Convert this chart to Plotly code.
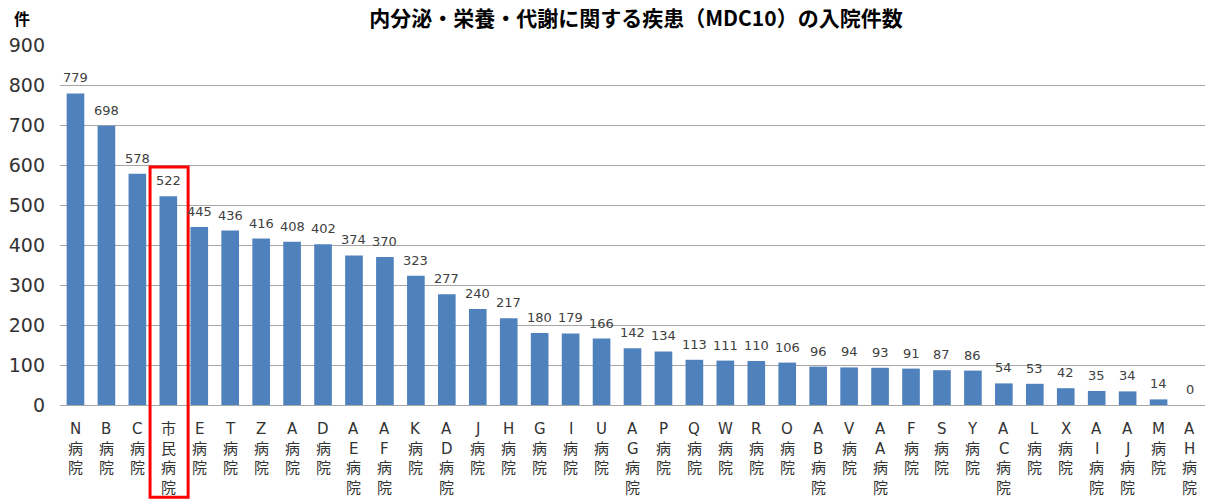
import plotly.graph_objects as go

hospitals = ["N病院", "B病院", "C病院", "市民病院", "E病院", "T病院", "Z病院", "A病院", "D病院",
             "AE病院", "AF病院", "K病院", "AD病院", "J病院", "H病院", "G病院", "I病院", "U病院",
             "AG病院", "P病院", "Q病院", "W病院", "R病院", "O病院", "AB病院", "V病院", "AA病院",
             "F病院", "S病院", "Y病院", "AC病院", "L病院", "X病院", "AI病院", "AJ病院", "M病院", "AH病院"]
admissions = [779, 698, 578, 522, 445, 436, 416, 408, 402, 374, 370, 323, 277, 240, 217, 180, 179,
              166, 142, 134, 113, 111, 110, 106, 96, 94, 93, 91, 87, 86, 54, 53, 42, 35, 34, 14, 0]
y_ticks = [0, 100, 200, 300, 400, 500, 600, 700, 800, 900]
highlight = "市民病院"

CJK = "Noto Sans CJK JP"
LATIN = "DejaVu Sans, Noto Sans CJK JP"

idx = list(range(len(hospitals)))

fig = go.Figure(go.Bar(
    x=idx,
    y=admissions,
    width=0.57,
    marker=dict(color="#4f81bd", line=dict(width=0)),
    hoverinfo="x+y",
))

annotations = []

# value labels above each bar
for i, v in zip(idx, admissions):
    annotations.append(dict(
        x=i, y=v, xref="x", yref="y", text=str(v), showarrow=False,
        xanchor="center", yanchor="bottom", yshift=6,
        font=dict(family=LATIN, size=13, color="#404040")))

# category names written vertically, one character per line
LINE_PITCH = 19.5
for i, name in zip(idx, hospitals):
    for j, ch in enumerate(name):
        annotations.append(dict(
            x=i, y=0, xref="x", yref="paper", text=ch, showarrow=False,
            xanchor="center", yanchor="middle", yshift=-(24 + LINE_PITCH * j),
            font=dict(family=LATIN, size=15, color="#333333")))

# unit label
annotations.append(dict(text="<b>件</b>", xref="paper", yref="paper", x=-0.033, y=1.075,
                        xanchor="center", yanchor="middle", showarrow=False,
                        font=dict(family=CJK, size=16, color="#000000")))

h = hospitals.index(highlight)
fig.add_shape(type="rect", xref="x", yref="paper",
              x0=h - 0.59, x1=h + 0.64, y0=-0.256, y1=0.661,
              line=dict(color="#ff0000", width=3), fillcolor="rgba(0,0,0,0)")

fig.update_layout(
    width=1210, height=499,
    margin=dict(l=60, r=5, t=45, b=94),
    paper_bgcolor="white", plot_bgcolor="white",
    showlegend=False,
    font=dict(family=CJK, color="#333333"),
    title=dict(text="<b>内分泌・栄養・代謝に関する疾患（MDC10）の入院件数</b>",
               x=0.503, xref="paper", xanchor="center", y=0.963, yanchor="middle",
               font=dict(family=CJK, size=21, color="#000000")),
    xaxis=dict(range=[-0.5, len(hospitals) - 0.5], showgrid=False, showline=False,
               showticklabels=False, ticks="", zeroline=False),
    yaxis=dict(range=[0, 900], tickmode="array", tickvals=y_ticks,
               showgrid=True, gridcolor="#a6a6a6", gridwidth=1,
               zeroline=True, zerolinecolor="#a6a6a6", zerolinewidth=1,
               showline=False, ticks="", ticklabelstandoff=14,
               tickfont=dict(family=LATIN, size=19, color="#333333")),
    annotations=annotations,
)

fig.write_html("out.html")
